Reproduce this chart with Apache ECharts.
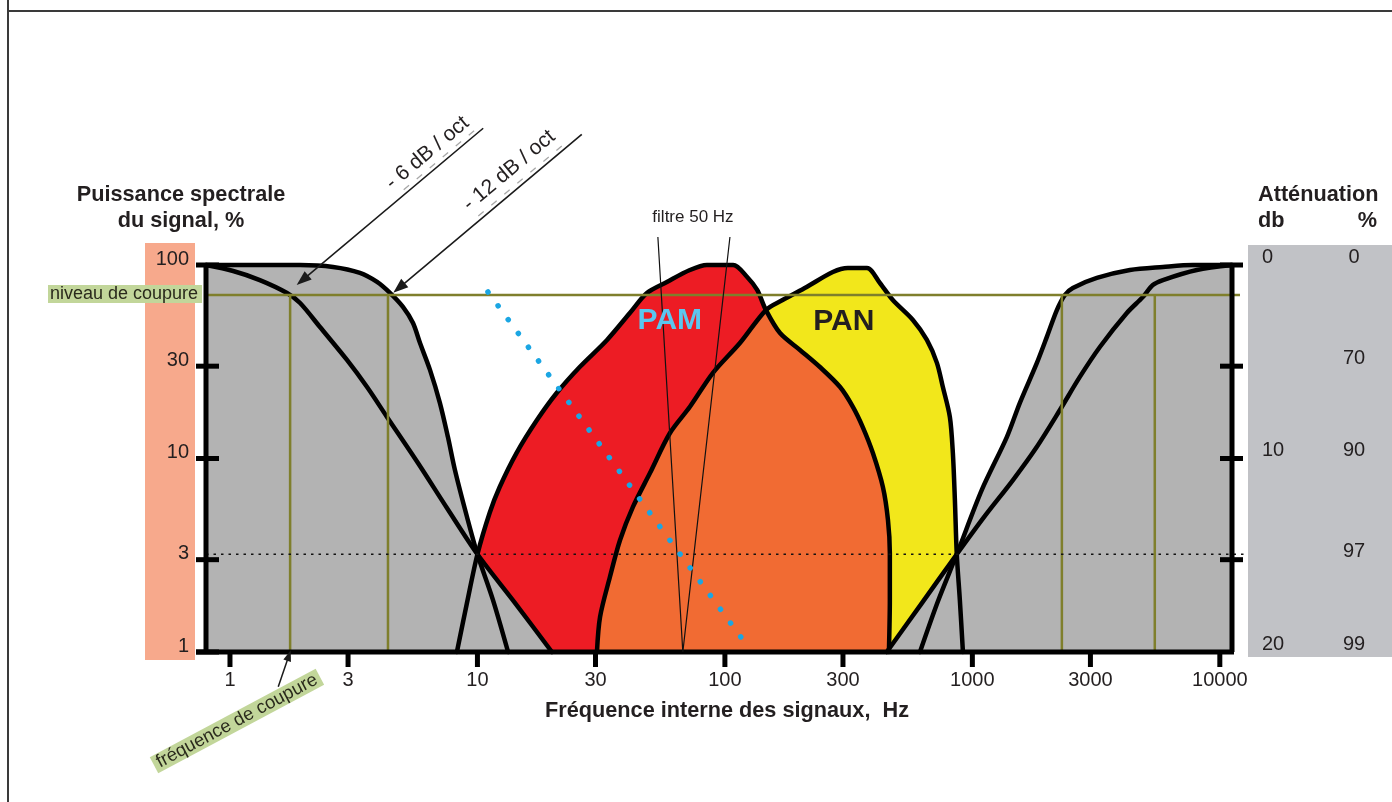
<!DOCTYPE html>
<html lang="fr">
<head>
<meta charset="utf-8">
<title>Puissance spectrale et filtrage</title>
<script src="https://cdn.jsdelivr.net/npm/echarts@6/dist/echarts.min.js"></script>
<style>
  html, body { margin: 0; padding: 0; background: #ffffff; }
  #chart { width: 1392px; height: 802px; }
</style>
</head>
<body>
<div id="chart"></div>
<script>
// ---------------------------------------------------------------------------
// Axes
const freqRange = [0.8, 11200];      // Hz, log scale
const powerRange = [1, 100];         // %, log scale
const freqTicks = [1, 3, 10, 30, 100, 300, 1000, 3000, 10000];
const powerTicks = [100, 30, 10, 3, 1];
const rightTicks = [100, 30, 10, 3];
// Attenuation scale: [signal %, label]
const attenDb = [[100, '0'], [10, '10'], [1, '20']];
const attenPct = [[100, '0'], [30, '70'], [10, '90'], [3, '97'], [1, '99']];

// Reference levels
const cutLevel = 70;                 // niveau de coupure, %
const crossLevel = 3.2;              // level where the filter skirts cross, %
const cutFreqs = [1.75, 4.35, 2300, 5460];

// Low-pass responses [Hz, %]
const lowSteep = [
  [0.8, 100], [1.92, 100], [2.61, 97.7], [3.35, 91], [3.93, 81.7], [4.43, 71.7],
  [5.0, 60.7], [5.49, 50.1], [5.86, 39.5], [6.43, 28.7], [7.05, 19.4], [7.6, 12.9],
  [8.11, 8.72], [9.07, 5.0], [10, 3.2], [11.55, 1.86], [13.3, 1]
];
const lowGentle = [
  [0.8, 100], [1.03, 93.1], [1.32, 83.6], [1.7, 71.7], [1.92, 63.6], [2.31, 47.8],
  [2.97, 32.3], [3.58, 23.4], [4.31, 16.4], [5.75, 9.48], [7.53, 5.55], [10, 3.2],
  [14.2, 1.79], [20, 1]
];
// High-pass responses [Hz, %]
const highSteep = [
  [11200, 100], [7780, 100], [5890, 97.7], [4330, 94.2], [3185, 85.7], [2547, 76.1],
  [2365, 70], [2195, 58.5], [2000, 42.5], [1823, 31.2], [1556, 19.4], [1378, 12.9],
  [1092, 6.88], [865, 3.2], [726, 1.83], [614, 1]
];
const highGentle = [
  [11200, 100], [8070, 94.2], [5890, 83.6], [5360, 78.8], [4885, 68.3], [4210, 56.5],
  [3275, 37.7], [2718, 26.4], [2258, 17.8], [1823, 11.5], [1459, 7.74], [1124, 5.05],
  [865, 3.2], [625, 1.79], [451, 1]
];
// Signal spectra [Hz, %]
const pam = [
  [8.26, 1], [9.07, 1.79], [10, 3.2], [11.2, 5.23], [12.3, 7.12], [14.4, 10.7],
  [17.4, 15.8], [20.9, 21.8], [25.9, 29.7], [33.4, 41], [41.3, 56.5], [48.4, 71.7],
  [58.3, 81.7], [72.2, 94.2], [84.6, 100], [108, 100], [123, 86.7], [135, 74.3],
  [146.5, 58.5], [167, 44.5], [201, 36.4], [242, 29.7], [292, 23.4], [329, 18.5],
  [361, 14.5], [396, 10.7], [435, 7.12], [456, 4.81], [464, 3.25], [464, 1.86], [460, 1]
];
const pan = [
  [30.4, 1], [31.3, 1.52], [34.3, 2.44], [37.7, 3.79], [42.5, 5.62], [49.8, 8.41],
  [59.9, 13.5], [72.2, 18.5], [89.5, 27.7], [115, 39.5], [146.5, 58.5], [171, 65.9],
  [214, 77], [273, 92], [314, 96.5], [375, 96.5], [423, 80.7], [477, 65.9], [575, 52],
  [655, 41], [719, 31.2], [760, 23.4], [811, 16.4], [834, 10.7], [850, 6.1], [865, 3.2],
  [890, 1.86], [916, 1]
];

// Annotations [Hz, %]
const trendLine = [[11.03, 72.5], [121.6, 1.1]];
const filterMarker = [[53.6, 139.6], [67.6, 1], [104.8, 139.6]];
const filterLabel = [74.3, 177];
const arrowSix = [[10.55, 509], [1.86, 78.8]];
const arrowTwelve = [[26.4, 473], [4.57, 71.9]];
const arrowCutFreq = [[1.567, 0.662], [1.76, 1.02]];
const cutFreqLabel = [1.067, 0.44];
const pamLabel = [59.9, 51.4];
const panLabel = [302.6, 50.7];

// ---------------------------------------------------------------------------
const FONT = "'Liberation Sans', Arial, Helvetica, sans-serif";
const INK = '#231f20';
const OLIVE = '#7f7f2c';
const TITLE_FONT = 'bold 21.7px ' + FONT;

function txt(x, y, text, size, extra) {
  extra = extra || {};
  return {
    type: 'text', x: x, y: y, rotation: extra.rotation || 0,
    style: Object.assign({
      text: text, fill: INK,
      font: (extra.bold ? 'bold ' : '') + size + 'px ' + FONT,
      align: 'center', verticalAlign: 'middle'
    }, extra.style || {})
  };
}

// Shapes built from the curves: overlap of the two spectra and the
// union of each pair of filter responses.
function idxOf(arr, pt) { return arr.findIndex(d => d[0] === pt[0] && d[1] === pt[1]); }
const spectraCross = [146.5, 58.5];
const overlap = pan.slice(0, idxOf(pan, spectraCross) + 1).concat(pam.slice(idxOf(pam, spectraCross) + 1));
const lowCrossS = lowSteep.findIndex(d => d[1] === crossLevel);
const lowCrossG = lowGentle.findIndex(d => d[1] === crossLevel);
const lowBand = [[freqRange[0], powerRange[0]]].concat(lowSteep.slice(0, lowCrossS + 1), lowGentle.slice(lowCrossG + 1));
const highCrossS = highSteep.findIndex(d => d[1] === crossLevel);
const highCrossG = highGentle.findIndex(d => d[1] === crossLevel);
const highBand = [[freqRange[1], powerRange[0]]].concat(highSteep.slice(0, highCrossS + 1), highGentle.slice(highCrossG + 1));

function fillSeries(points, color, z) {
  return {
    type: 'custom', coordinateSystem: 'cartesian2d', z: z, silent: true, animation: false,
    data: points,
    renderItem: (params, api) => params.dataIndex !== 0 ? null : {
      type: 'polygon',
      shape: { points: points.map(p => api.coord(p)) },
      style: { fill: color }
    }
  };
}

function outlineSeries(points) {
  return {
    type: 'line', data: points, symbol: 'none', showSymbol: false, clip: false,
    smooth: 0.3, z: 4, silent: true, animation: false,
    lineStyle: { color: '#000', width: 4.5, join: 'round', cap: 'round' }
  };
}

function arrowSeries(points, opts) {
  return {
    type: 'custom', coordinateSystem: 'cartesian2d', z: 9, silent: true, animation: false,
    data: points,
    renderItem: (params, api) => {
      if (params.dataIndex !== 0) return null;
      const a = api.coord(points[0]);
      const b = api.coord(points[1]);
      const dx = b[0] - a[0], dy = b[1] - a[1];
      const len = Math.hypot(dx, dy);
      const ux = dx / len, uy = dy / len;
      const hl = opts.headLen, hw = opts.headHalf;
      const bx = b[0] - ux * hl, by = b[1] - uy * hl;
      const children = [
        { type: 'line', shape: { x1: a[0], y1: a[1], x2: bx + ux * 2, y2: by + uy * 2 },
          style: { stroke: '#1a1a1a', lineWidth: opts.width } },
        { type: 'polygon',
          shape: { points: [[b[0], b[1]], [bx - uy * hw, by + ux * hw], [bx + uy * hw, by - ux * hw]] },
          style: { fill: '#1a1a1a' } }
      ];
      if (opts.label) {
        const t = opts.label.t, d = opts.label.d, half = opts.label.half;
        const mx = a[0] + dx * t, my = a[1] + dy * t;
        // faint guide dashes running under the slope text
        children.push({ type: 'line',
          shape: { x1: mx - ux * half - uy * 4, y1: my - uy * half + ux * 4,
                   x2: mx + ux * half - uy * 4, y2: my + uy * half + ux * 4 },
          style: { stroke: '#a8a8a8', lineWidth: 1.3, lineDash: [7, 10] } });
        children.push(txt(mx - uy * d, my + ux * d, opts.label.text, 21, { rotation: Math.atan2(uy, -ux) }));
      }
      return { type: 'group', children: children };
    }
  };
}

const chart = echarts.init(document.getElementById('chart'), null, { renderer: 'canvas' });

chart.setOption({
  animation: false,
  backgroundColor: '#ffffff',
  grid: { left: 206, right: 160, top: 265, bottom: 150 },
  xAxis: { type: 'log', logBase: 10, min: freqRange[0], max: freqRange[1], show: false },
  yAxis: { type: 'log', logBase: 10, min: powerRange[0], max: powerRange[1], show: false },
  graphic: {
    elements: [
      { type: 'line', z: 0, shape: { x1: 8, y1: 0, x2: 8, y2: 802 }, style: { stroke: '#3a3a3a', lineWidth: 2 } },
      { type: 'line', z: 0, shape: { x1: 8, y1: 11, x2: 1392, y2: 11 }, style: { stroke: '#3a3a3a', lineWidth: 2 } },
      { type: 'rect', z: 0, shape: { x: 145, y: 243, width: 50, height: 417 }, style: { fill: '#f7a98c' } },
      { type: 'rect', z: 0, shape: { x: 1248, y: 245, width: 144, height: 412 }, style: { fill: '#c1c2c6' } },
      { type: 'text', z: 10, x: 181, y: 195, style: { text: 'Puissance spectrale', font: TITLE_FONT, fill: INK, align: 'center', verticalAlign: 'middle' } },
      { type: 'text', z: 10, x: 181, y: 221, style: { text: 'du signal, %', font: TITLE_FONT, fill: INK, align: 'center', verticalAlign: 'middle' } },
      { type: 'text', z: 10, x: 1258, y: 195, style: { text: 'Atténuation', font: TITLE_FONT, fill: INK, align: 'left', verticalAlign: 'middle' } },
      { type: 'text', z: 10, x: 1258, y: 221, style: { text: 'db', font: TITLE_FONT, fill: INK, align: 'left', verticalAlign: 'middle' } },
      { type: 'text', z: 10, x: 1377, y: 221, style: { text: '%', font: TITLE_FONT, fill: INK, align: 'right', verticalAlign: 'middle' } },
      { type: 'text', z: 10, x: 727, y: 711, style: { text: 'Fréquence interne des signaux,  Hz', font: TITLE_FONT, fill: INK, align: 'center', verticalAlign: 'middle' } }
    ]
  },
  series: [
    // spectra and filter bands
    fillSeries(pam, '#ed1c24', 2),
    fillSeries(pan, '#f2e71b', 2),
    fillSeries(overlap, '#f16b33', 2),
    fillSeries(lowBand, '#b3b3b3', 2),
    fillSeries(highBand, '#b3b3b3', 2),

    // black outlines
    outlineSeries(pam),
    outlineSeries(pan),
    outlineSeries(lowSteep),
    outlineSeries(lowGentle),
    outlineSeries(highSteep),
    outlineSeries(highGentle),

    // cut-off level and cut-off frequencies
    {
      type: 'custom', coordinateSystem: 'cartesian2d', z: 5, silent: true, animation: false,
      data: cutFreqs.map(f => [f, cutLevel]),
      renderItem: (params, api) => {
        const top = api.coord([api.value(0), api.value(1)]);
        const bot = api.coord([api.value(0), powerRange[0]]);
        const children = [
          { type: 'line', shape: { x1: top[0], y1: top[1], x2: bot[0], y2: bot[1] - 2 },
            style: { stroke: OLIVE, lineWidth: 2.5 } }
        ];
        if (params.dataIndex === 0) {
          const l = api.coord([freqRange[0], cutLevel]);
          const r = api.coord([freqRange[1], cutLevel]);
          children.push({ type: 'line', shape: { x1: l[0], y1: l[1], x2: r[0] + 8, y2: r[1] },
            style: { stroke: OLIVE, lineWidth: 2.5 } });
          children.push({ type: 'rect', shape: { x: l[0] - 158, y: l[1] - 10, width: 154, height: 18 },
            style: { fill: '#c2d69a' } });
          children.push(txt(l[0] - 156, l[1] - 1, 'niveau de coupure', 18, { style: { align: 'left', fill: '#2a2a1c' } }));
        }
        return { type: 'group', children: children };
      }
    },

    // crossing level
    {
      type: 'custom', coordinateSystem: 'cartesian2d', z: 5, silent: true, animation: false,
      data: [[freqRange[0], crossLevel]],
      renderItem: (params, api) => {
        const l = api.coord([freqRange[0], crossLevel]);
        const r = api.coord([freqRange[1], crossLevel]);
        return { type: 'line', shape: { x1: l[0], y1: l[1], x2: r[0] + 16, y2: r[1] },
          style: { stroke: '#111', lineWidth: 1.3, lineDash: [2.5, 5] } };
      }
    },

    // axis frame
    {
      type: 'custom', coordinateSystem: 'cartesian2d', z: 8, silent: true, animation: false,
      data: [[freqRange[0], powerRange[0]]],
      renderItem: (params, api) => {
        const bl = api.coord([freqRange[0], powerRange[0]]);
        const tl = api.coord([freqRange[0], powerRange[1]]);
        const br = api.coord([freqRange[1], powerRange[0]]);
        const tr = api.coord([freqRange[1], powerRange[1]]);
        const st = { stroke: '#000', lineWidth: 5 };
        return { type: 'group', children: [
          { type: 'line', shape: { x1: tl[0], y1: tl[1] - 2, x2: bl[0], y2: bl[1] }, style: st },
          { type: 'line', shape: { x1: bl[0] - 10, y1: bl[1], x2: br[0] + 2, y2: br[1] }, style: st },
          { type: 'line', shape: { x1: tr[0], y1: tr[1] - 2, x2: br[0], y2: br[1] }, style: st }
        ] };
      }
    },
    // frequency ticks
    {
      type: 'custom', coordinateSystem: 'cartesian2d', z: 8, silent: true, animation: false,
      data: freqTicks.map(f => [f, powerRange[0]]),
      renderItem: (params, api) => {
        const p = api.coord([api.value(0), api.value(1)]);
        return { type: 'group', children: [
          { type: 'line', shape: { x1: p[0], y1: p[1], x2: p[0], y2: p[1] + 15 }, style: { stroke: '#000', lineWidth: 5 } },
          txt(p[0], p[1] + 28, String(freqTicks[params.dataIndex]), 20)
        ] };
      }
    },
    // power ticks (left)
    {
      type: 'custom', coordinateSystem: 'cartesian2d', z: 8, silent: true, animation: false,
      data: powerTicks.map(v => [freqRange[0], v]),
      renderItem: (params, api) => {
        const p = api.coord([api.value(0), api.value(1)]);
        return { type: 'group', children: [
          { type: 'line', shape: { x1: p[0] - 10, y1: p[1], x2: p[0] + 13, y2: p[1] }, style: { stroke: '#000', lineWidth: 5 } },
          txt(p[0] - 17, p[1] - 6, String(powerTicks[params.dataIndex]), 20, { style: { align: 'right' } })
        ] };
      }
    },
    // right ticks
    {
      type: 'custom', coordinateSystem: 'cartesian2d', z: 8, silent: true, animation: false,
      data: rightTicks.map(v => [freqRange[1], v]),
      renderItem: (params, api) => {
        const p = api.coord([api.value(0), api.value(1)]);
        return { type: 'line', shape: { x1: p[0] - 12, y1: p[1], x2: p[0] + 11, y2: p[1] }, style: { stroke: '#000', lineWidth: 5 } };
      }
    },
    // attenuation labels
    {
      type: 'custom', coordinateSystem: 'cartesian2d', z: 8, silent: true, animation: false,
      data: attenDb.map(d => [freqRange[1], d[0]]),
      renderItem: (params, api) => {
        const p = api.coord([api.value(0), api.value(1)]);
        return txt(p[0] + 30, p[1] - 8, attenDb[params.dataIndex][1], 20, { style: { align: 'left' } });
      }
    },
    {
      type: 'custom', coordinateSystem: 'cartesian2d', z: 8, silent: true, animation: false,
      data: attenPct.map(d => [freqRange[1], d[0]]),
      renderItem: (params, api) => {
        const p = api.coord([api.value(0), api.value(1)]);
        return txt(p[0] + 122, p[1] - 8, attenPct[params.dataIndex][1], 20);
      }
    },

    // 50 Hz filter marker
    {
      type: 'custom', coordinateSystem: 'cartesian2d', z: 9, silent: true, animation: false,
      data: filterMarker,
      renderItem: (params, api) => {
        if (params.dataIndex !== 0) return null;
        const lab = api.coord(filterLabel);
        return { type: 'group', children: [
          { type: 'polyline', shape: { points: filterMarker.map(p => api.coord(p)) },
            style: { stroke: '#111', lineWidth: 1.2, fill: null } },
          txt(lab[0], lab[1], 'filtre 50 Hz', 17)
        ] };
      }
    },

    // trend of the spectral peak
    {
      type: 'line', data: trendLine, symbol: 'none', showSymbol: false, z: 9, silent: true, animation: false,
      lineStyle: { color: '#1ba6e3', width: 5.5, type: [0.1, 17], cap: 'round' }
    },

    // slope arrows and cut-off frequency arrow
    arrowSeries(arrowSix, { width: 1.6, headLen: 15, headHalf: 5.5, label: { text: '- 6 dB / oct', t: 0.24, d: 17, half: 50 } }),
    arrowSeries(arrowTwelve, { width: 1.6, headLen: 15, headHalf: 5.5, label: { text: '- 12 dB / oct', t: 0.32, d: 19, half: 56 } }),
    arrowSeries(arrowCutFreq, { width: 1.5, headLen: 11, headHalf: 4 }),

    // text labels
    {
      type: 'custom', coordinateSystem: 'cartesian2d', z: 10, silent: true, animation: false,
      data: [pamLabel, panLabel, cutFreqLabel],
      renderItem: (params, api) => {
        const p = api.coord([api.value(0), api.value(1)]);
        if (params.dataIndex === 0) return txt(p[0], p[1], 'PAM', 30, { bold: true, style: { fill: '#5cc6ef' } });
        if (params.dataIndex === 1) return txt(p[0], p[1], 'PAN', 30, { bold: true });
        return txt(p[0], p[1], 'fréquence de coupure', 18.5, {
          rotation: 0.49,
          style: { fill: '#2a2a1c', backgroundColor: '#c2d69a', padding: [0, 4], lineHeight: 18 }
        });
      }
    }
  ]
});
</script>
</body>
</html>
